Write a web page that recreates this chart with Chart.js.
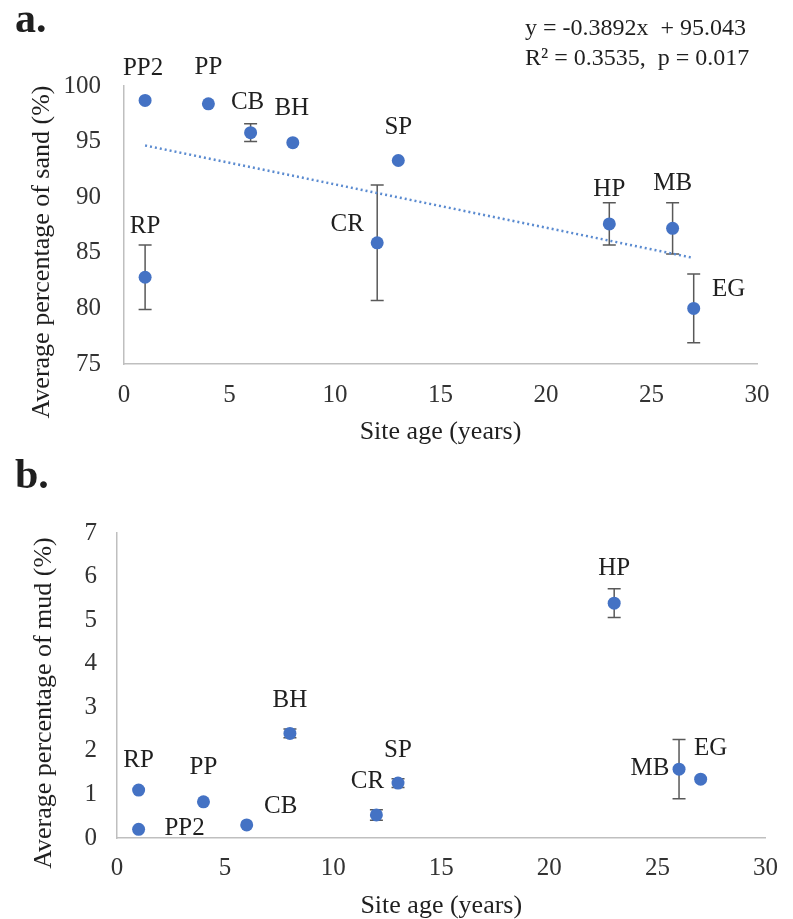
<!DOCTYPE html>
<html>
<head>
<meta charset="utf-8">
<script src="https://cdn.jsdelivr.net/npm/chart.js@4.4.0/dist/chart.umd.min.js"></script>
<style>
  body { margin: 0; background: #fff; }
  .panel { position: absolute; left: 0; width: 793px; }
  #sandPanel { top: 0; height: 445px; }
  #mudPanel { top: 445px; height: 474px; }
</style>
</head>
<body>
<div class="panel" id="sandPanel"><canvas id="sandChart"></canvas></div>
<div class="panel" id="mudPanel"><canvas id="mudChart"></canvas></div>
<script>
// site data
const sites    = ['RP', 'PP2', 'PP', 'CB', 'BH', 'CR', 'SP', 'HP', 'MB', 'EG'];
const siteAge  = [1, 1, 4, 6, 8, 12, 13, 23, 26, 27];
const sandMean = [82.8, 98.7, 98.4, 95.8, 94.9, 85.9, 93.3, 87.6, 87.2, 80.0];
const sandSE   = [2.9, 0, 0, 0.8, 0, 5.2, 0, 1.9, 2.3, 3.1];
const mudMean  = [1.1, 0.2, 0.83, 0.3, 2.4, 0.53, 1.26, 5.39, 1.58, 1.35];
const mudSE    = [0, 0, 0, 0, 0.1, 0.12, 0.1, 0.33, 0.68, 0];

const xTicks    = [0, 5, 10, 15, 20, 25, 30];
const sandTicks = [75, 80, 85, 90, 95, 100];
const mudTicks  = [0, 1, 2, 3, 4, 5, 6, 7];

// linear fit of sand vs age
const trendSlope = -0.3892;
const trendIntercept = 95.043;
const trendRange = [1, 27];
const trendText = ['y = -0.3892x  + 95.043', 'R\u00B2 = 0.3535,  p = 0.017'];

// where each site label sits relative to its marker (px)
const sandLabelOffset = [[0, -51], [-2, -32], [0, -36], [-3, -30], [-1, -34], [-30, -18], [0, -33], [0, -34], [0, -45], [35, -19]];
const mudLabelOffset  = [[0, -30], [46, -1], [0, -34], [34, -18], [0, -33], [-9, -33], [0, -33], [0, -35], [-29, -1], [10, -31]];

const SERIF = '"Liberation Serif", "Times New Roman", serif';
const BLUE = '#4472c4';
const INK = '#1f1f1f';

const decor = {
  id: 'decor',
  beforeDatasetsDraw(chart, args, o) {
    const {ctx, scales: {x, y}} = chart;
    ctx.save();
    ctx.strokeStyle = '#595959';
    ctx.lineWidth = 1.5;
    o.means.forEach((m, i) => {
      const e = o.err[i];
      if (!e) return;
      const px = x.getPixelForValue(siteAge[i]);
      const top = y.getPixelForValue(m + e);
      const bot = y.getPixelForValue(m - e);
      ctx.beginPath();
      ctx.moveTo(px, top); ctx.lineTo(px, bot);
      ctx.moveTo(px - 6.5, top); ctx.lineTo(px + 6.5, top);
      ctx.moveTo(px - 6.5, bot); ctx.lineTo(px + 6.5, bot);
      ctx.stroke();
    });
    ctx.restore();
  },
  afterDraw(chart, args, o) {
    const {ctx, scales: {x, y}} = chart;
    ctx.save();
    ctx.fillStyle = INK;
    // site names
    ctx.font = '25px ' + SERIF;
    ctx.textAlign = 'center';
    ctx.textBaseline = 'middle';
    o.means.forEach((m, i) => {
      const [dx, dy] = o.offsets[i];
      ctx.fillText(sites[i], x.getPixelForValue(siteAge[i]) + dx, y.getPixelForValue(m) + dy);
    });
    // y axis title
    ctx.save();
    ctx.translate(o.yTitle.x, o.yTitle.y);
    ctx.rotate(-Math.PI / 2);
    ctx.font = '26px ' + SERIF;
    ctx.fillText(o.yTitle.text, 0, 0);
    ctx.restore();
    // panel letter
    ctx.font = 'bold 42px ' + SERIF;
    ctx.textAlign = 'left';
    ctx.textBaseline = 'alphabetic';
    ctx.fillText(o.letter.text, o.letter.x, o.letter.y);
    // fit statistics
    if (o.notes) {
      ctx.font = '24px ' + SERIF;
      o.notes.lines.forEach((t, k) => ctx.fillText(t, o.notes.x, o.notes.y + k * 30));
    }
    ctx.restore();
  }
};

function axes(yMin, yMax, yTicks, yWidth, yPad, xPad) {
  const tickFont = {family: SERIF, size: 25};
  return {
    x: {
      type: 'linear', min: 0, max: 30,
      afterBuildTicks: s => { s.ticks = xTicks.map(v => ({value: v})); },
      afterFit: s => { s.height = 81; },
      grid: {display: false, drawTicks: false},
      border: {color: '#bfbfbf', width: 1.5},
      ticks: {font: tickFont, color: '#333', padding: xPad},
      title: {display: true, text: 'Site age (years)', color: INK,
              font: {family: SERIF, size: 26, lineHeight: 1}, padding: {top: 0, bottom: 0}}
    },
    y: {
      type: 'linear', min: yMin, max: yMax,
      afterBuildTicks: s => { s.ticks = yTicks.map(v => ({value: v})); },
      afterFit: s => { s.width = yWidth; },
      grid: {display: false, drawTicks: false},
      border: {color: '#bfbfbf', width: 1.5},
      ticks: {font: tickFont, color: '#333', padding: yPad}
    }
  };
}

const points = vals => siteAge.map((a, i) => ({x: a, y: vals[i]}));

new Chart(document.getElementById('sandChart'), {
  type: 'scatter',
  data: {
    datasets: [{
      data: points(sandMean),
      backgroundColor: BLUE, borderWidth: 0, pointRadius: 6.5
    }, {
      type: 'line',
      data: trendRange.map(a => ({x: a, y: trendSlope * a + trendIntercept})),
      borderColor: '#5b8bd0', borderWidth: 2.5, borderDash: [2, 3],
      pointRadius: 0, fill: false
    }]
  },
  options: {
    responsive: true, maintainAspectRatio: false, animation: false,
    layout: {padding: {top: 86, right: 36, bottom: 0, left: 0}},
    scales: axes(75, 100, sandTicks, 124, 23, 16),
    plugins: {
      legend: {display: false}, tooltip: {enabled: false},
      decor: {
        means: sandMean, err: sandSE, offsets: sandLabelOffset,
        yTitle: {text: 'Average percentage of sand (%)', x: 42, y: 252},
        letter: {text: 'a.', x: 15, y: 32},
        notes: {lines: trendText, x: 525, y: 35}
      }
    }
  },
  plugins: [decor]
});

new Chart(document.getElementById('mudChart'), {
  type: 'scatter',
  data: {
    datasets: [{
      data: points(mudMean),
      backgroundColor: BLUE, borderWidth: 0, pointRadius: 6.5
    }]
  },
  options: {
    responsive: true, maintainAspectRatio: false, animation: false,
    layout: {padding: {top: 88, right: 16, bottom: 0, left: 0}},
    scales: axes(0, 7, mudTicks, 117, 20, 15),
    plugins: {
      legend: {display: false}, tooltip: {enabled: false},
      decor: {
        means: mudMean, err: mudSE, offsets: mudLabelOffset,
        yTitle: {text: 'Average percentage of mud (%)', x: 44, y: 258},
        letter: {text: 'b.', x: 15, y: 43}
      }
    }
  },
  plugins: [decor]
});
</script>
</body>
</html>
